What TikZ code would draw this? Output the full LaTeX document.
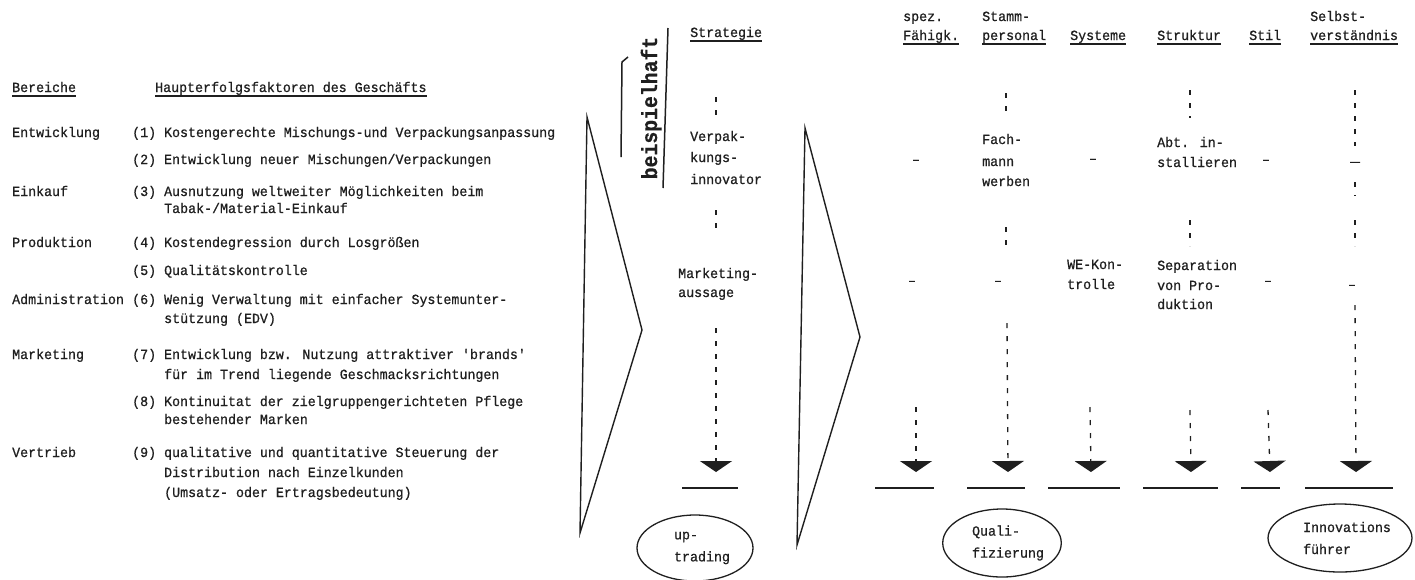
\documentclass[tikz,border=0pt]{standalone}
\usepackage{fontspec}
\usetikzlibrary{shapes.geometric,arrows.meta}
\newfontfamily\twfont[FakeStretch=0.95,FakeBold=0.7]{Liberation Mono}
\newfontfamily\twheavy[FakeStretch=0.9,FakeBold=0.6]{Liberation Mono}
\definecolor{ink}{gray}{0.12}
\tikzset{
  tw/.style={font=\twfont\fontsize{14}{20}\selectfont, inner sep=0pt, anchor=base west, text=ink},
  dashmark/.style={font=\twfont\fontsize{14}{20}\selectfont, inner sep=0pt, anchor=center, text=ink},
  uline/.style={draw=ink, line width=1.1pt},
  colline/.style={draw=ink, line width=1.3pt, dash pattern=on 5pt off 8pt},
  tipped/.style={colline, -{Triangle[width=32pt,length=11pt]}},
  rulebar/.style={draw=ink, line width=1.6pt},
  chev/.style={draw=ink, line width=1.4pt, line join=miter},
  bubble/.style={draw=ink, ellipse, line width=1.3pt, inner sep=0pt, align=left,
                 font=\twfont\fontsize{14}{22}\selectfont, text=ink},
}
\newcommand{\ul}[1]{\draw[uline] ([yshift=-4pt]#1.base west) -- ([yshift=-4pt]#1.base east);}
\begin{document}
\begin{tikzpicture}[x=1pt,y=-1pt]
\useasboundingbox (0,0) rectangle (1415,579);
\fill[white] (0,0) rectangle (1415,579);

% ---- left block: areas and key success factors
\node[tw] (bereiche) at (12,92) {Bereiche};
\node[tw] (faktoren) at (155,92) {Haupterfolgsfaktoren des Geschäfts};
\ul{bereiche} \ul{faktoren}

\node[tw] (b1) at (12,137) {Entwicklung};
\node[tw] (f1) at (132,137) {(1) Kostengerechte Mischungs-und Verpackungsanpassung};
\node[tw] (f2) at (132,164) {(2) Entwicklung neuer Mischungen/Verpackungen};
\node[tw] (b2) at (12,196) {Einkauf};
\node[tw] (f3) at (132,196) {(3) Ausnutzung weltweiter Möglichkeiten beim};
\node[tw] (f3b) at (164,213) {Tabak-/Material-Einkauf};
\node[tw] (b3) at (12,247) {Produktion};
\node[tw] (f4) at (132,247) {(4) Kostendegression durch Losgrößen};
\node[tw] (f5) at (132,275) {(5) Qualitätskontrolle};
\node[tw] (b4) at (12,304) {Administration};
\node[tw] (f6) at (132,304) {(6) Wenig Verwaltung mit einfacher Systemunter-};
\node[tw] (f6b) at (164,323) {stützung (EDV)};
\node[tw] (b5) at (12,359) {Marketing};
\node[tw] (f7) at (132,359) {(7) Entwicklung bzw. Nutzung attraktiver 'brands'};
\node[tw] (f7b) at (164,379) {für im Trend liegende Geschmacksrichtungen};
\node[tw] (f8) at (132,406) {(8) Kontinuitat der zielgruppengerichteten Pflege};
\node[tw] (f8b) at (164,424) {bestehender Marken};
\node[tw] (b6) at (12,457) {Vertrieb};
\node[tw] (f9) at (132,457) {(9) qualitative und quantitative Steuerung der};
\node[tw] (f9b) at (164,477) {Distribution nach Einzelkunden};
\node[tw] (f9c) at (164,497) {(Umsatz- oder Ertragsbedeutung)};

% ---- chevrons
\draw[chev] (587,117) -- (642,330) -- (580,533) -- cycle;
\draw[chev] (805,128) -- (860,337) -- (797,545) -- cycle;

% ---- "beispielhaft" with its bars
\node[rotate=90, anchor=base, inner sep=0pt, text=ink,
      font=\twheavy\bfseries\fontsize{22}{22}\selectfont] (bsp) at (657,108) {beispielhaft};
\draw[draw=ink, line width=1.5pt] (628,57) -- (622,62) -- (621,157);
\draw[draw=ink, line width=1.5pt] (668,28) -- (663,188);

% ---- column headers
\node[tw] (strat) at (690,37) {Strategie};
\node[tw] (spez) at (903,21) {spez.};
\node[tw] (fah) at (903,40) {Fähigk.};
\node[tw] (stamm) at (982,21) {Stamm-};
\node[tw] (pers) at (982,40) {personal};
\node[tw] (sys) at (1070,40) {Systeme};
\node[tw] (struk) at (1157,40) {Struktur};
\node[tw] (stil) at (1249,40) {Stil};
\node[tw] (selb) at (1310,21) {Selbst-};
\node[tw] (vers) at (1310,40) {verständnis};
\ul{strat} \ul{fah} \ul{pers} \ul{sys} \ul{struk} \ul{stil} \ul{vers}

% ---- Strategie column
\node[tw] (verp1) at (690,141) {Verpak-};
\node[tw] (verp2) at (690,162) {kungs-};
\node[tw] (verp3) at (690,184) {innovator};
\node[tw] (mkt1) at (678,278) {Marketing-};
\node[tw] (mkt2) at (678,297) {aussage};
\coordinate (sa1) at (716,97);  \coordinate (sa2) at (716,118);
\coordinate (sa3) at (716,210); \coordinate (sa4) at (716,232);
\coordinate (sa5) at (716,328); \coordinate (sa6) at (716,472);
\draw[colline] (sa1) -- (sa2);
\draw[colline] (sa3) -- (sa4);
\draw[tipped] (sa5) -- (sa6);

% ---- spez. Fähigk. column
\node[dashmark] (m1) at (916,162) {–};
\node[dashmark] (m2) at (912,283) {–};
\coordinate (sp1) at (916,407); \coordinate (sp2) at (916,472);
\draw[tipped] (sp1) -- (sp2);

% ---- Stammpersonal column
\node[tw] (fach1) at (982,144) {Fach-};
\node[tw] (fach2) at (982,166) {mann};
\node[tw] (fach3) at (982,186) {werben};
\node[dashmark] (m3) at (998,283) {–};
\coordinate (st1) at (1006,93);  \coordinate (st2) at (1006,118);
\coordinate (st3) at (1006,227); \coordinate (st4) at (1006,248);
\coordinate (st5) at (1007,323); \coordinate (st6) at (1008,472);
\draw[colline] (st1) -- (st2);
\draw[colline] (st3) -- (st4);
\draw[tipped] (st5) -- (st6);

% ---- Systeme column
\node[dashmark] (m4) at (1093,161) {–};
\node[tw] (we1) at (1067,269) {WE-Kon-};
\node[tw] (we2) at (1067,289) {trolle};
\coordinate (sy1) at (1090,407); \coordinate (sy2) at (1091,472);
\draw[tipped] (sy1) -- (sy2);

% ---- Struktur column
\node[tw] (abt1) at (1157,147) {Abt. in-};
\node[tw] (abt2) at (1157,167) {stallieren};
\node[tw] (sep1) at (1157,270) {Separation};
\node[tw] (sep2) at (1157,290) {von Pro-};
\node[tw] (sep3) at (1157,309) {duktion};
\coordinate (sk1) at (1190,90);  \coordinate (sk2) at (1190,118);
\coordinate (sk3) at (1190,220); \coordinate (sk4) at (1190,246);
\coordinate (sk5) at (1190,410); \coordinate (sk6) at (1191,472);
\draw[colline] (sk1) -- (sk2);
\draw[colline] (sk3) -- (sk4);
\draw[tipped] (sk5) -- (sk6);

% ---- Stil column
\node[dashmark] (m5) at (1266,162) {–};
\node[dashmark] (m6) at (1268,283) {–};
\coordinate (sl1) at (1268,410); \coordinate (sl2) at (1270,472);
\draw[tipped] (sl1) -- (sl2);

% ---- Selbstverständnis column
\node[dashmark] (m7) at (1355,164) {\scalebox{1.7}[1]{–}};
\node[dashmark] (m8) at (1352,287) {–};
\coordinate (sv1) at (1355,90);  \coordinate (sv2) at (1355,146);
\coordinate (sv3) at (1355,182); \coordinate (sv4) at (1355,196);
\coordinate (sv5) at (1355,220); \coordinate (sv6) at (1355,246);
\coordinate (sv7) at (1355,305); \coordinate (sv8) at (1356,472);
\draw[colline] (sv1) -- (sv2);
\draw[colline] (sv3) -- (sv4);
\draw[colline] (sv5) -- (sv6);
\draw[tipped] (sv7) -- (sv8);

% ---- closing bars
\coordinate (r1a) at (682,488);  \coordinate (r1b) at (738,488);
\coordinate (r2a) at (875,488);  \coordinate (r2b) at (934,488);
\coordinate (r3a) at (967,488);  \coordinate (r3b) at (1025,488);
\coordinate (r4a) at (1048,488); \coordinate (r4b) at (1120,488);
\coordinate (r5a) at (1143,488); \coordinate (r5b) at (1218,488);
\coordinate (r6a) at (1241,488); \coordinate (r6b) at (1280,488);
\coordinate (r7a) at (1305,488); \coordinate (r7b) at (1393,488);
\foreach \k in {1,...,7} { \draw[rulebar] (r\k a) -- (r\k b); }

% ---- outcome bubbles
\node[bubble, minimum width=116pt, minimum height=66pt] (uptr) at (695,548)
  {\hspace*{14pt}up-\\\hspace*{14pt}trading};
\node[bubble, minimum width=112pt, minimum height=68pt] (quali) at (1002,543)
  {\hspace*{12pt}Quali-\\\hspace*{12pt}fizierung};
\node[bubble, minimum width=108pt, minimum height=68pt] (innov) at (1340,538)
  {\hspace*{14pt}Innovations\\\hspace*{14pt}führer};
\end{tikzpicture}
\end{document}
